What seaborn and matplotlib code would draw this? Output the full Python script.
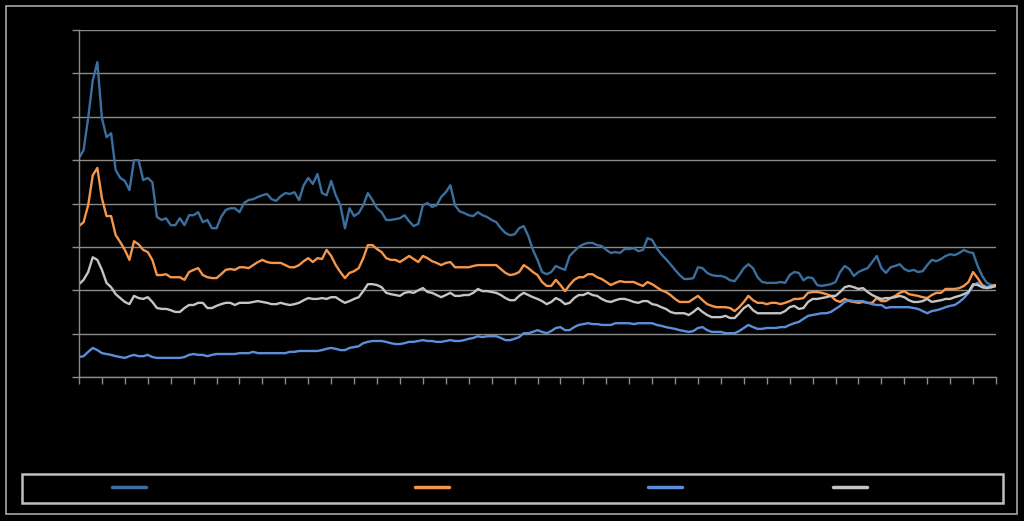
import numpy as np
import pandas as pd
import matplotlib
matplotlib.use("Agg")
import matplotlib.pyplot as plt
import seaborn as sns
from matplotlib.lines import Line2D
from matplotlib.patches import Rectangle

sns.set_style("dark")

# four series, one value per period (201 periods)
series_names = ["Series 1", "Series 2", "Series 3", "Series 4"]
series_colors = ["#3b6f9f", "#f5964a", "#5b8fda", "#c4c4c4"]

s1 = [50.5, 52.3, 59.7, 68.4, 72.6, 59.7, 55.3, 56.2, 47.7, 45.9,
      45.2, 43.1, 50.0, 50.0, 45.4, 45.9, 44.9, 36.9, 36.2, 36.6,
      35.0, 35.0, 36.6, 35.0, 37.3, 37.3, 38.0, 35.7, 36.2, 34.3,
      34.3, 36.9, 38.5, 38.9, 38.9, 38.0, 40.1, 40.8, 41.0, 41.5,
      41.9, 42.2, 41.0, 40.6, 41.7, 42.4, 42.2, 42.6, 40.8, 44.2,
      45.9, 44.5, 46.8, 42.4, 41.9, 45.2, 41.9, 39.6, 34.3, 38.9,
      37.1, 37.8, 39.6, 42.4, 40.8, 38.9, 38.0, 36.2, 36.2, 36.4,
      36.6, 37.3, 35.9, 34.8, 35.3, 39.6, 40.1, 39.2, 39.6, 41.5,
      42.6, 44.2, 39.6, 38.2, 37.8, 37.3, 37.1, 38.0, 37.3, 36.9,
      36.2, 35.7, 34.3, 33.2, 32.7, 32.9, 34.3, 34.8, 32.5, 29.3,
      27.0, 24.2, 23.7, 24.2, 25.6, 25.1, 24.7, 27.9, 29.0, 30.0,
      30.6, 30.9, 30.9, 30.4, 30.2, 29.3, 28.6, 28.8, 28.6, 29.5,
      29.5, 29.7, 29.0, 29.3, 32.0, 31.6, 29.7, 28.3, 27.2, 26.0,
      24.7, 23.5, 22.6, 22.6, 22.8, 25.3, 25.1, 24.0, 23.5, 23.3,
      23.3, 23.0, 22.3, 22.1, 23.5, 25.1, 26.0, 25.1, 23.0, 21.9,
      21.7, 21.7, 21.7, 21.9, 21.7, 23.5, 24.2, 24.0, 22.3, 23.0,
      22.8, 21.2, 21.0, 21.2, 21.4, 21.9, 24.2, 25.6, 24.9, 23.3,
      24.2, 24.7, 25.1, 26.5, 27.9, 25.1, 24.0, 25.3, 25.6, 26.0,
      24.9, 24.4, 24.7, 24.2, 24.4, 25.8, 27.0, 26.7, 27.2, 27.9,
      28.3, 28.1, 28.6, 29.3, 28.8, 28.6, 25.6, 23.3, 21.7, 21.2,
      21.2]

s2 = [34.8, 35.7, 39.6, 46.5, 48.2, 41.2, 37.1, 37.1, 32.7, 31.1,
      29.3, 27.0, 31.3, 30.6, 29.3, 28.8, 27.0, 23.5, 23.5, 23.7,
      23.0, 23.0, 23.0, 22.4, 24.2, 24.7, 25.1, 23.5, 23.0, 22.8,
      22.8, 23.7, 24.7, 24.9, 24.7, 25.3, 25.3, 25.1, 25.8, 26.5,
      27.0, 26.5, 26.3, 26.3, 26.3, 25.8, 25.3, 25.3, 25.8, 26.7,
      27.4, 26.5, 27.4, 27.2, 29.3, 27.9, 25.8, 24.2, 22.8, 24.0,
      24.4, 25.1, 27.4, 30.4, 30.4, 29.5, 28.8, 27.4, 27.0, 27.0,
      26.5, 27.2, 27.9, 27.2, 26.5, 27.9, 27.4, 26.7, 26.3, 25.8,
      26.3, 26.5, 25.3, 25.3, 25.3, 25.3, 25.6, 25.8, 25.8, 25.8,
      25.8, 25.8, 24.9, 24.0, 23.5, 23.7, 24.2, 25.8, 25.1, 24.2,
      23.5, 21.9, 21.0, 21.0, 22.4, 21.2, 19.8, 21.2, 22.4, 23.0,
      23.0, 23.7, 23.7, 23.0, 22.6, 21.9, 21.2, 21.7, 22.1, 21.9,
      21.9, 21.9, 21.4, 21.0, 21.9, 21.4, 20.7, 20.0, 19.6, 18.9,
      18.0, 17.3, 17.3, 17.3, 18.0, 18.7, 17.7, 16.8, 16.4, 16.1,
      16.1, 16.1, 15.9, 15.2, 16.1, 17.3, 18.7, 17.7, 17.1, 17.1,
      16.8, 17.1, 17.1, 16.8, 17.1, 17.5, 18.0, 18.0, 18.2, 19.4,
      19.6, 19.6, 19.4, 19.1, 18.7, 17.7, 17.3, 18.0, 17.5, 17.3,
      17.1, 17.3, 17.1, 17.1, 18.2, 17.5, 17.5, 18.2, 18.7, 19.4,
      19.8, 19.1, 18.9, 18.7, 18.4, 18.2, 18.9, 19.4, 19.4, 20.3,
      20.3, 20.3, 20.5, 21.0, 21.9, 24.2, 22.8, 21.2, 20.7, 21.0,
      21.2]

s3 = [4.6, 4.8, 5.8, 6.7, 6.2, 5.5, 5.3, 5.1, 4.8, 4.6,
      4.4, 4.8, 5.1, 4.8, 4.8, 5.1, 4.6, 4.4, 4.4, 4.4,
      4.4, 4.4, 4.4, 4.6, 5.1, 5.3, 5.1, 5.1, 4.8, 5.1,
      5.3, 5.3, 5.3, 5.3, 5.3, 5.5, 5.5, 5.5, 5.8, 5.5,
      5.5, 5.5, 5.5, 5.5, 5.5, 5.5, 5.8, 5.8, 6.0, 6.0,
      6.0, 6.0, 6.0, 6.2, 6.5, 6.7, 6.5, 6.2, 6.2, 6.7,
      6.9, 7.1, 7.8, 8.1, 8.3, 8.3, 8.3, 8.1, 7.8, 7.6,
      7.6, 7.8, 8.1, 8.1, 8.3, 8.5, 8.3, 8.3, 8.1, 8.1,
      8.3, 8.5, 8.3, 8.3, 8.5, 8.8, 9.0, 9.4, 9.2, 9.4,
      9.4, 9.4, 9.0, 8.5, 8.5, 8.8, 9.2, 10.1, 10.1, 10.4,
      10.8, 10.4, 10.1, 10.6, 11.3, 11.5, 10.8, 10.8, 11.5, 12.0,
      12.2, 12.4, 12.2, 12.2, 12.0, 12.0, 12.0, 12.4, 12.4, 12.4,
      12.4, 12.2, 12.4, 12.4, 12.4, 12.4, 12.0, 11.8, 11.5, 11.3,
      11.1, 10.8, 10.6, 10.4, 10.6, 11.3, 11.5, 10.8, 10.4, 10.4,
      10.4, 10.1, 10.1, 10.1, 10.6, 11.3, 12.0, 11.5, 11.1, 11.1,
      11.3, 11.3, 11.3, 11.5, 11.5, 12.0, 12.4, 12.7, 13.4, 14.1,
      14.3, 14.5, 14.7, 14.7, 15.0, 15.7, 16.4, 17.3, 17.7, 17.5,
      17.5, 17.5, 17.1, 16.8, 16.6, 16.6, 15.9, 16.1, 16.1, 16.1,
      16.1, 16.1, 15.9, 15.7, 15.2, 14.7, 15.2, 15.4, 15.7, 16.1,
      16.4, 16.6, 17.3, 18.2, 19.4, 21.0, 21.7, 20.7, 20.7, 20.7,
      21.0]

s4 = [21.4, 22.4, 24.2, 27.6, 27.0, 24.7, 21.7, 20.7, 19.1, 18.2,
      17.3, 16.8, 18.7, 18.2, 18.0, 18.4, 17.3, 15.9, 15.7, 15.7,
      15.4, 15.0, 15.0, 15.9, 16.6, 16.6, 17.1, 17.1, 15.9, 15.9,
      16.4, 16.8, 17.1, 17.1, 16.6, 17.1, 17.1, 17.1, 17.3, 17.5,
      17.3, 17.1, 16.8, 16.8, 17.1, 16.8, 16.6, 16.8, 17.1, 17.7,
      18.2, 18.0, 18.0, 18.2, 18.0, 18.4, 18.4, 17.7, 17.1, 17.5,
      18.0, 18.4, 19.8, 21.4, 21.4, 21.2, 20.7, 19.4, 19.1, 18.9,
      18.7, 19.4, 19.6, 19.4, 20.0, 20.5, 19.6, 19.4, 18.9, 18.4,
      18.9, 19.4, 18.7, 18.7, 18.9, 18.9, 19.4, 20.3, 19.8, 19.8,
      19.6, 19.4, 18.9, 18.2, 17.7, 17.7, 18.7, 19.4, 18.9, 18.4,
      18.0, 17.5, 16.8, 17.3, 18.2, 17.7, 16.8, 17.1, 18.2, 18.9,
      18.9, 19.4, 18.9, 18.7, 18.0, 17.5, 17.3, 17.7, 18.0, 18.0,
      17.7, 17.3, 17.1, 17.5, 17.5, 16.8, 16.6, 16.1, 15.7, 15.0,
      14.7, 14.7, 14.7, 14.3, 15.0, 15.9, 15.0, 14.3, 13.8, 13.8,
      13.8, 14.1, 13.6, 13.6, 14.7, 15.9, 16.6, 15.4, 14.7, 14.7,
      14.7, 14.7, 14.7, 14.7, 15.2, 16.1, 16.4, 15.7, 15.9, 17.3,
      18.0, 18.0, 18.2, 18.4, 18.7, 18.7, 19.6, 20.7, 21.0, 20.7,
      20.3, 20.5, 19.6, 18.9, 18.4, 18.0, 18.2, 18.2, 18.4, 18.7,
      18.4, 17.7, 17.3, 17.3, 17.5, 18.0, 17.3, 17.5, 17.7, 18.0,
      18.0, 18.4, 18.7, 19.1, 19.6, 21.4, 21.2, 20.7, 20.5, 20.7,
      21.0]

periods = np.arange(len(s1))
df = pd.concat([pd.DataFrame({"period": periods, "value": s, "series": n})
                for s, n in zip([s1, s2, s3, s4], series_names)])

W, H = 1024, 521
fig = plt.figure(figsize=(W / 100, H / 100), dpi=100, facecolor="black")
ax = fig.add_axes([79 / W, 1 - 377 / H, 917 / W, 347 / H], facecolor="black")

sns.lineplot(data=df, x="period", y="value", hue="series", palette=series_colors,
             linewidth=1.7, legend=False, ax=ax)

grid_c = "#8a8a8a"
ax.set_xlim(0, len(s1) - 1)
ax.set_ylim(0, 80)
ax.set_yticks(np.arange(0, 81, 10))
ax.set_xticks(np.arange(0, len(s1), 5))
ax.yaxis.grid(True, color=grid_c, lw=1)
ax.xaxis.grid(False)
ax.set_axisbelow(True)
for side in ["top", "right"]:
    ax.spines[side].set_visible(False)
for side in ["left", "bottom"]:
    ax.spines[side].set_color(grid_c)
    ax.spines[side].set_linewidth(1)
ax.tick_params(axis="both", direction="out", length=5, width=1, color=grid_c,
               labelcolor="black", labelsize=8, bottom=True, left=True)
ax.tick_params(axis="x", labelbottom=False)
ax.set_xlabel("")
ax.set_ylabel("")

# outer chart border and legend box
fig.patches.append(Rectangle((6 / W, 1 - 514 / H), 1011 / W, 508 / H, transform=fig.transFigure,
                             fill=False, edgecolor="#a6a6a6", lw=1.2))
fig.patches.append(Rectangle((22 / W, 1 - 503 / H), 981 / W, 29 / H, transform=fig.transFigure,
                             fill=False, edgecolor="#bfbfbf", lw=1.8))

legend_x = [112, 415, 648, 833]
for name, c, lx in zip(series_names, series_colors, legend_x):
    fig.legend(handles=[Line2D([], [], color=c, lw=2.5)], labels=[name],
               loc="center left", bbox_to_anchor=(lx / W, 1 - 488 / H),
               frameon=False, borderpad=0, borderaxespad=0, handlelength=2.45,
               labelcolor="black", fontsize=10)

fig.savefig("out.png", dpi=100, facecolor="black")
